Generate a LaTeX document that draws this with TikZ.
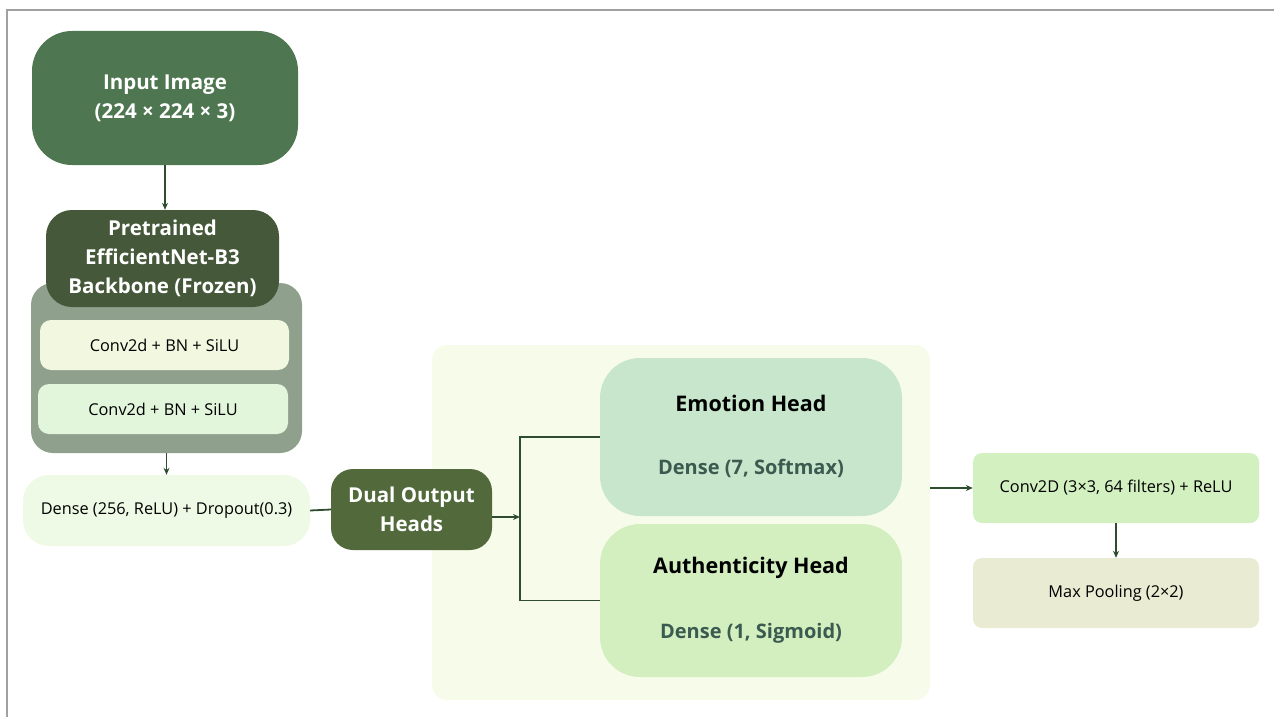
\documentclass[tikz,border=0pt]{standalone}
\usepackage{fontspec}
\setmainfont{Open Sans}
\usetikzlibrary{arrows.meta}
\definecolor{inputgreen}{HTML}{4E7751}
\definecolor{deepgreen}{HTML}{45593A}
\definecolor{dualgreen}{HTML}{526A3B}
\definecolor{frozengray}{HTML}{8FA08D}
\definecolor{convA}{HTML}{F2F8DF}
\definecolor{convB}{HTML}{E2F6DC}
\definecolor{densefill}{HTML}{EEFAE6}
\definecolor{headsbg}{HTML}{F7FBEA}
\definecolor{emofill}{HTML}{C8E6CB}
\definecolor{authfill}{HTML}{D3EFBF}
\definecolor{convfill}{HTML}{D3F0C0}
\definecolor{poolfill}{HTML}{EAEBD3}
\definecolor{linkcol}{HTML}{2E4D2E}
\definecolor{subtext}{HTML}{3B5B50}
\definecolor{framegray}{HTML}{A0A0A0}
\tikzset{
  blk/.style={draw=none, align=center, inner sep=0pt},
  darkblk/.style={blk, text=white, font=\bfseries\fontsize{20.5}{29}\selectfont},
  smallblk/.style={blk, text=black, font=\fontsize{16.3}{19}\selectfont},
  headblk/.style={blk, text=black, font=\bfseries\fontsize{21.5}{30}\selectfont},
  subline/.style={text=subtext, font=\bfseries\fontsize{20}{24}\selectfont},
  link/.style={draw=linkcol, line width=1.8pt},
  arr/.style={link, -{Stealth[length=7pt,width=6pt]}},
}
\begin{document}
\begin{tikzpicture}[x=1pt, y=-1pt]
\useasboundingbox (0,0) rectangle (1274,717);
% frame lines along the top and left edges
\draw[framegray, line width=1.5pt] (7,717) -- (7,10) -- (1274,10);

% input
\node[darkblk, fill=inputgreen, rounded corners=40pt, minimum width=266pt, minimum height=134pt]
  (inp) at (165,98) {Input Image\\(224 × 224 × 3)};

% frozen backbone container and its layers
\node[blk, fill=frozengray, rounded corners=22pt, minimum width=271pt, minimum height=170pt]
  (frozen) at (166.5,368) {};
\node[darkblk, fill=deepgreen, rounded corners=26pt, minimum width=233pt, minimum height=97pt]
  (pre) at (162.5,258.5) {Pretrained\\EfficientNet-B3\\Backbone (Frozen)};
\node[smallblk, fill=convA, rounded corners=11pt, minimum width=249pt, minimum height=50pt]
  (convone) at (164.5,345) {Conv2d + BN + SiLU};
\node[smallblk, fill=convB, rounded corners=11pt, minimum width=250pt, minimum height=50pt]
  (convtwo) at (163,409) {Conv2d + BN + SiLU};

% dense layer
\node[smallblk, fill=densefill, rounded corners=26pt, minimum width=287pt, minimum height=71pt]
  (dense) at (166.5,510.5) {Dense (256, ReLU) + Dropout(0.3)};

% output heads panel
\node[blk, fill=headsbg, rounded corners=15pt, minimum width=498pt, minimum height=355pt]
  (heads) at (681,522.5) {};
\node[blk, fill=emofill, rounded corners=40pt, minimum width=302pt, minimum height=158pt]
  (emo) at (751,437) {};
\node[headblk] at (751,403) {Emotion Head};
\node[subline] at (751,468) {Dense (7, Softmax)};
\node[blk, fill=authfill, rounded corners=40pt, minimum width=302pt, minimum height=153pt]
  (auth) at (751,600.5) {};
\node[headblk] at (751,568) {Authenticity Head};
\node[subline] at (751,633) {Dense (1, Sigmoid)};

% dual heads (drawn over the panel edge)
\node[darkblk, fill=dualgreen, rounded corners=22pt, minimum width=161pt, minimum height=81pt]
  (dual) at (411.5,509.5) {Dual Output\\Heads};

% conv / pooling stack
\node[smallblk, fill=convfill, rounded corners=9pt, minimum width=286pt, minimum height=70pt]
  (cnv) at (1116,488) {Conv2D (3×3, 64 filters) + ReLU};
\node[smallblk, fill=poolfill, rounded corners=9pt, minimum width=286pt, minimum height=70pt]
  (pool) at (1116,593) {Max Pooling (2×2)};

% connectors
\coordinate (split) at (520,517);
\draw[arr] (inp.south) -- (inp.south |- pre.north);
\draw[arr] (frozen.south) -- (frozen.south |- dense.north);
\draw[link] (dense.east) -- (dual.west);
\draw[arr] (split -| dual.east) -- (split);
\draw[link] (emo.west) -| (split) |- (auth.west);
\draw[arr] (heads.east |- cnv.west) -- (cnv.west);
\draw[arr] (cnv.south) -- (pool.north);
\end{tikzpicture}
\end{document}
